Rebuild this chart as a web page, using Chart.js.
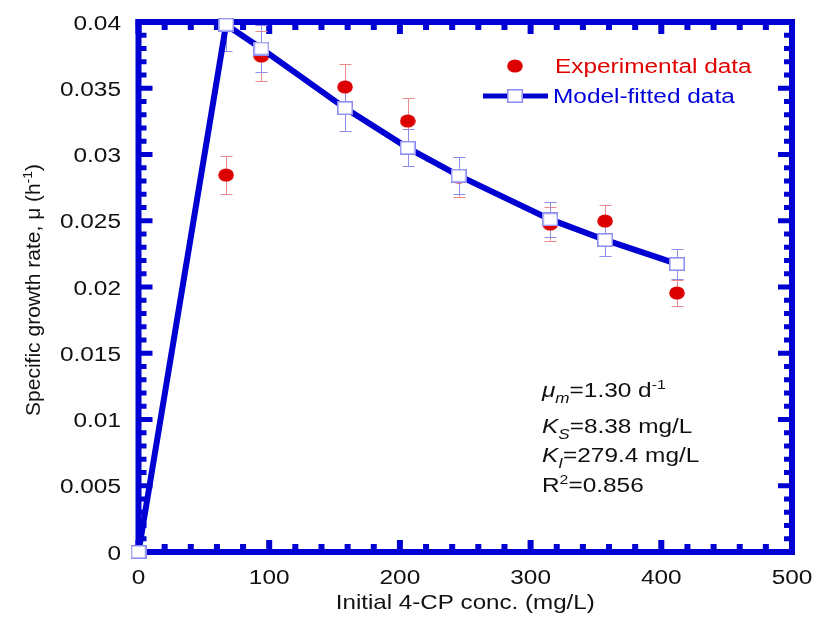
<!DOCTYPE html>
<html>
<head>
<meta charset="utf-8">
<script src="https://cdn.jsdelivr.net/npm/chart.js@4.4.1/dist/chart.umd.min.js"></script>
<style>
  body { margin: 0; background: #fff; }
  canvas { display: block; }
</style>
</head>
<body>
<canvas id="chart" width="816" height="617"></canvas>
<script>
// experimental points (mg/L -> h^-1) with error bars
const expConc = [67, 94, 158, 206, 245, 315, 357, 412];
const expRate = [0.02845, 0.03743, 0.0351, 0.03253, 0.0283, 0.02475, 0.02498, 0.01955];
const expErr = [0.0014, 0.0019, 0.0017, 0.0017, 0.0015, 0.0013, 0.0012, 0.001];

// model fitted curve
const modelConc = [0, 67, 94, 158, 206, 245, 315, 357, 412];
const modelRate = [0, 0.0398, 0.038, 0.0335, 0.0305, 0.0284, 0.0251, 0.02355, 0.02174];
const modelErr = [0, 0.002, 0.0018, 0.0017, 0.0014, 0.0014, 0.0013, 0.0012, 0.0011];

// tick labels
const xTickValues = [0, 100, 200, 300, 400, 500];
const xTickLabels = ["0", "100", "200", "300", "400", "500"];
const yTickValues = [0, 0.005, 0.01, 0.015, 0.02, 0.025, 0.03, 0.035, 0.04];
const yTickLabels = ["0", "0.005", "0.01", "0.015", "0.02", "0.025", "0.03", "0.035", "0.04"];

const blue = "#0000d2";
const red = "#dd0000";
const FONT = "Liberation Sans, Arial, sans-serif";
const SX = 1.22; // the picture is a bit wide

function makeSquare() {
    const c = document.createElement("canvas");
    c.width = 16; c.height = 14;
    const g = c.getContext("2d");
    g.fillStyle = "#fff";
    g.fillRect(0, 0, 16, 14);
    g.strokeStyle = "#8a8af0";
    g.lineWidth = 1.5;
    g.strokeRect(0.75, 0.75, 14.5, 12.5);
    return c;
}

function makeDot() {
    const c = document.createElement("canvas");
    c.width = 16; c.height = 14;
    const g = c.getContext("2d");
    g.fillStyle = red;
    g.beginPath();
    g.ellipse(8, 7, 7.8, 6.6, 0, 0, Math.PI * 2);
    g.fill();
    return c;
}

const squareImg = makeSquare();
const dotImg = makeDot();

function toPoints(xs, ys) {
    return xs.map((x, i) => ({ x: x, y: ys[i] }));
}

// draws text stretched horizontally, returns the drawn width
function wideText(ctx, text, x, y, size, color, opts) {
    opts = opts || {};
    ctx.save();
    ctx.font = (opts.italic ? "italic " : "") + size + "px " + FONT;
    ctx.fillStyle = color;
    const sx = opts.sx || SX;
    const w = ctx.measureText(text).width * sx;
    let left = x;
    if (opts.align === "center") left = x - w / 2;
    if (opts.align === "right") left = x - w;
    ctx.translate(left, y);
    ctx.scale(sx, 1);
    ctx.textAlign = "left";
    ctx.textBaseline = "alphabetic";
    ctx.fillText(text, 0, 0);
    ctx.restore();
    return w;
}

// segments: {t, italic, sub, sup}
function richText(ctx, segs, x, y, size, color, sx) {
    let cx = x;
    segs.forEach(s => {
        let sz = size, dy = 0;
        if (s.sub) { sz = size * 0.7; dy = 6; }
        if (s.sup) { sz = size * 0.65; dy = -8; }
        cx += wideText(ctx, s.t, cx, y + dy, sz, color, { italic: s.italic, sx: sx });
    });
    return cx - x;
}

function richWidth(ctx, segs, size, sx) {
    let w = 0;
    segs.forEach(s => {
        let sz = size;
        if (s.sub) sz = size * 0.7;
        if (s.sup) sz = size * 0.65;
        ctx.font = (s.italic ? "italic " : "") + sz + "px " + FONT;
        w += ctx.measureText(s.t).width * sx;
    });
    return w;
}

const framePlugin = {
    id: "frame",
    beforeDatasetsDraw(chart) {
        const ctx = chart.ctx;
        const a = chart.chartArea;
        const xs = chart.scales.x, ys = chart.scales.y;
        ctx.save();
        ctx.fillStyle = blue;
        const lw = 6;
        // frame
        ctx.fillRect(a.left - lw / 2, a.top - lw / 2, a.right - a.left + lw, lw);
        ctx.fillRect(a.left - lw / 2, a.bottom - lw / 2, a.right - a.left + lw, lw);
        ctx.fillRect(a.left - lw / 2, a.top - lw / 2, lw, a.bottom - a.top + lw);
        ctx.fillRect(a.right - lw / 2, a.top - lw / 2, lw, a.bottom - a.top + lw);
        // inward ticks along x
        for (let v = xs.min; v <= xs.max; v += 20) {
            const px = xs.getPixelForValue(v);
            const len = (v % 100 === 0) ? 12 : 8;
            ctx.fillRect(px - 3, a.bottom - len, 6, len);
            ctx.fillRect(px - 3, a.top, 6, len);
        }
        // inward ticks along y
        for (let i = 0; i <= 40; i++) {
            const py = ys.getPixelForValue(i * 0.001);
            const len = (i % 5 === 0) ? 14 : 8;
            ctx.fillRect(a.left, py - 2.5, len, 5);
            ctx.fillRect(a.right - len, py - 2.5, len, 5);
        }
        ctx.restore();

        // error bars, kept inside the frame
        ctx.save();
        ctx.beginPath();
        ctx.rect(a.left, a.top + 3, a.right - a.left, a.bottom - a.top - 3);
        ctx.clip();
        ctx.lineWidth = 1;
        const bars = [
            { xs: expConc, ys: expRate, err: expErr, color: "#ef8a8a" },
            { xs: modelConc, ys: modelRate, err: modelErr, color: "#8c8cec" }
        ];
        bars.forEach(b => {
            ctx.strokeStyle = b.color;
            b.xs.forEach((xv, i) => {
                if (!b.err[i]) return;
                const px = Math.round(xs.getPixelForValue(xv)) + 0.5;
                const top = Math.round(ys.getPixelForValue(b.ys[i] + b.err[i])) + 0.5;
                const bot = Math.round(ys.getPixelForValue(b.ys[i] - b.err[i])) + 0.5;
                ctx.beginPath();
                ctx.moveTo(px, top); ctx.lineTo(px, bot);
                ctx.moveTo(px - 6, top); ctx.lineTo(px + 6, top);
                ctx.moveTo(px - 6, bot); ctx.lineTo(px + 6, bot);
                ctx.stroke();
            });
        });
        ctx.restore();
    },
    afterDraw(chart) {
        const ctx = chart.ctx;
        const xs = chart.scales.x, ys = chart.scales.y;
        const a = chart.chartArea;

        // tick labels
        xTickValues.forEach((v, i) => {
            wideText(ctx, xTickLabels[i], xs.getPixelForValue(v), 584, 20, "#111", { align: "center" });
        });
        yTickValues.forEach((v, i) => {
            wideText(ctx, yTickLabels[i], 121, ys.getPixelForValue(v) + 7.5, 20, "#111", { align: "right" });
        });

        // axis titles
        wideText(ctx, "Initial 4-CP conc. (mg/L)", (a.left + a.right) / 2, 609, 21, "#111", { align: "center", sx: 1.15 });

        const yTitle = [{ t: "Specific growth rate, \u03bc (h" }, { t: "-1", sup: true }, { t: ")" }];
        ctx.save();
        ctx.translate(40, 290);
        ctx.rotate(-Math.PI / 2);
        const tw = richWidth(ctx, yTitle, 21, 1);
        richText(ctx, yTitle, -tw / 2, 0, 21, "#111", 1);
        ctx.restore();

        // legend
        ctx.drawImage(dotImg, 515 - 8, 66 - 7);
        wideText(ctx, "Experimental data", 555, 73, 20, "#e00000");
        ctx.save();
        ctx.strokeStyle = blue;
        ctx.lineWidth = 5;
        ctx.beginPath();
        ctx.moveTo(483, 96); ctx.lineTo(548, 96);
        ctx.stroke();
        ctx.restore();
        ctx.drawImage(squareImg, 515 - 8, 96 - 7);
        wideText(ctx, "Model-fitted data", 553, 103, 20, "#0000dd");

        // kinetic parameters
        const notes = [
            { segs: [{ t: "\u03bc", italic: true }, { t: "m", italic: true, sub: true }, { t: "=1.30 d" }, { t: "-1", sup: true }], y: 397 },
            { segs: [{ t: "K", italic: true }, { t: "S", italic: true, sub: true }, { t: "=8.38 mg/L" }], y: 433 },
            { segs: [{ t: "K", italic: true }, { t: "I", italic: true, sub: true }, { t: "=279.4 mg/L" }], y: 462 },
            { segs: [{ t: "R" }, { t: "2", sup: true }, { t: "=0.856" }], y: 492 }
        ];
        notes.forEach(n => richText(ctx, n.segs, 542, n.y, 20, "#111", SX));
    }
};

const ctx = document.getElementById("chart").getContext("2d");

new Chart(ctx, {
    type: "line",
    data: {
        datasets: [
            {
                label: "Model-fitted data",
                data: toPoints(modelConc, modelRate),
                borderColor: blue,
                borderWidth: 6,
                pointStyle: squareImg,
                showLine: true,
                clip: false,
                order: 1
            },
            {
                label: "Experimental data",
                data: toPoints(expConc, expRate),
                pointStyle: dotImg,
                showLine: false,
                clip: false,
                order: 2
            }
        ]
    },
    options: {
        responsive: false,
        animation: false,
        events: [],
        layout: { padding: { left: 0, top: 22, right: 24, bottom: 0 } },
        plugins: {
            legend: { display: false },
            tooltip: { enabled: false }
        },
        scales: {
            x: {
                type: "linear",
                min: 0,
                max: 500,
                grid: { display: false },
                border: { display: false },
                ticks: { display: false },
                afterFit: s => { s.height = 65; }
            },
            y: {
                type: "linear",
                min: 0,
                max: 0.04,
                grid: { display: false },
                border: { display: false },
                ticks: { display: false },
                afterFit: s => { s.width = 138.5; }
            }
        }
    },
    plugins: [framePlugin]
});
</script>
</body>
</html>
